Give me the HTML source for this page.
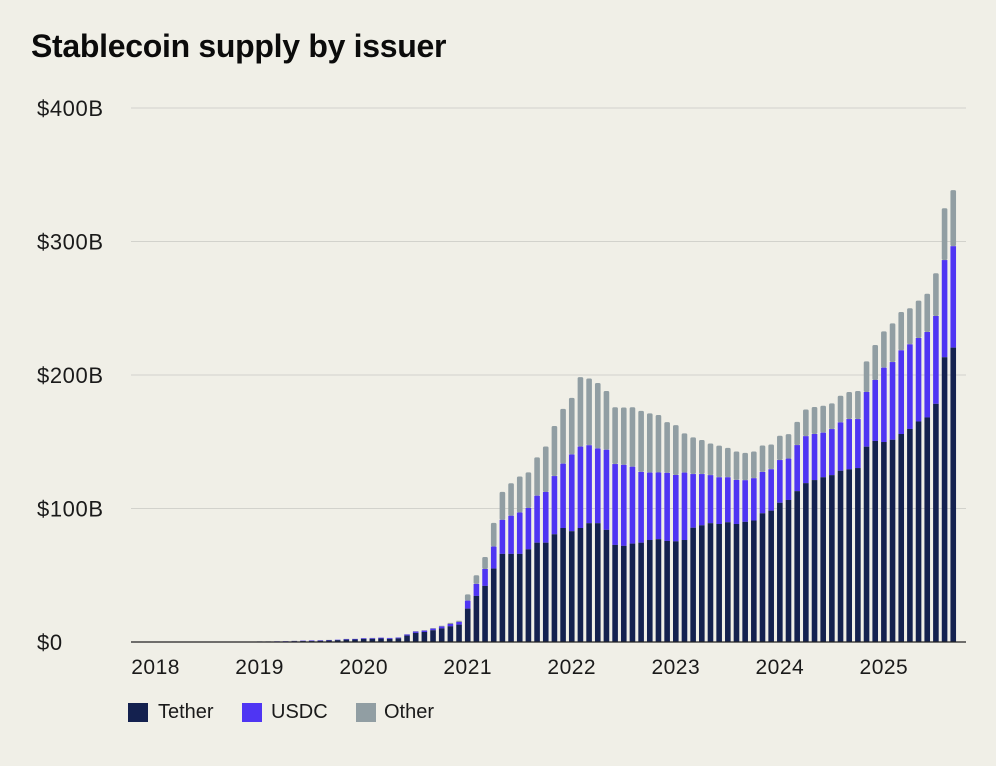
<!DOCTYPE html>
<html><head><meta charset="utf-8"><style>
body{margin:0;background:#f0efe7;width:996px;height:766px;overflow:hidden;font-family:"Liberation Sans",sans-serif;}
#title{position:absolute;left:31px;top:28px;font-size:32px;font-weight:bold;color:#0b0b0b;margin:0;letter-spacing:-0.3px}
svg{position:absolute;left:0;top:0}
.leg{position:absolute;top:701px;font-size:20px;color:#1a1a1a}
.sw{position:absolute;top:703px;width:20px;height:19px}
</style></head><body>
<h1 id="title">Stablecoin supply by issuer</h1>
<svg id="chart" width="996" height="766"></svg>
<div class="sw" style="left:128px;background:#14214f"></div>
<div class="leg" style="left:158px">Tether</div>
<div class="sw" style="left:242px;background:#4f35f3"></div>
<div class="leg" style="left:271px">USDC</div>
<div class="sw" style="left:356px;background:#919ea3"></div>
<div class="leg" style="left:384px">Other</div>
<script>
const yTicks=[0,100,200,300,400];
const yTickLabels=["$0","$100B","$200B","$300B","$400B"];
const xYears=["2018","2019","2020","2021","2022","2023","2024","2025"];
// monthly from 2018-01 to 2025-09, billions
const tether=[0.1,0.1,0.1,0.1,0.1,0.1,0.1,0.1,0.1,0.1,0.1,0.1,
0.2,0.2,0.3,0.4,0.6,0.7,0.7,0.9,1.2,1.4,1.8,1.9,
2.3,2.4,2.6,2.3,2.7,4.8,6.8,7.5,8.8,10.2,11.8,13,
25,34.5,42,55,66,66,66,69.4,74.4,74.4,80.7,85.4,
83,85.4,89,89,84,72.7,72,73.7,74.4,76.4,77,75.7,
75.4,76.4,85.6,87.4,89,88.4,89.7,88.4,90,91,96.4,98.4,
104.3,106.4,113,119,121.3,123.4,125,128.3,129.3,130.3,146.3,150.6,
149.8,151.5,155.8,159.6,165.2,168.2,178.4,213.3,220.5];
const usdc=[0,0,0,0,0,0,0,0,0,0,0,0.1,
0.2,0.2,0.2,0.2,0.2,0.3,0.4,0.4,0.3,0.3,0.4,0.4,
0.5,0.5,0.6,0.6,0.6,0.8,1,1,1.2,1.4,1.7,2,
6,9,12.7,16.5,25.5,28.6,31,31,35.2,38,43.6,48.2,
57.5,61,58.4,56,60,60.6,60.7,57.6,53,50.5,50,51,
49.7,50.5,40.2,38.4,36,35,33.7,33,31.2,31.7,31,31,
32,31,34.5,35.2,34.5,33.4,34.5,36.2,37.7,36.7,41,45.7,
55.7,58.2,62.7,63.4,62.5,64,65.8,72.8,76];
const other=[0.05,0.05,0.05,0.05,0.05,0.05,0.05,0.05,0.05,0.05,0.05,0.05,
0.1,0.1,0.1,0.1,0.1,0.1,0.1,0.1,0.1,0.1,0.1,0.1,
0.2,0.2,0.2,0.2,0.2,0.2,0.3,0.4,0.5,0.6,0.8,0.9,
4.7,6.5,9,17.7,21,24.3,27,26.7,28.7,34,37.5,41,
42.4,52,50,49,44,42.5,43,44.5,45.7,44.4,43,38,
37.4,29.4,27.5,25.5,23.7,23.7,22,21.3,20.5,20,19.8,18.5,
18.2,18.3,17.4,20,20.2,20.2,19.2,20,20.3,21,22.9,26.2,
27.2,29,28.7,27,28,28.7,32,38.8,42];
const svg=document.getElementById('chart');const NS='http://www.w3.org/2000/svg';
const x0=155.6,step=8.67,base=642,pxPer=1.335,bw=5.6;
function xScale(i){return x0+i*step;}
function yScale(v){return base-v*pxPer;}
function mk(tag,attrs){const e=document.createElementNS(NS,tag);for(const k in attrs)e.setAttribute(k,attrs[k]);svg.appendChild(e);return e;}
yTicks.forEach((t,i)=>{
 if(t>0){const g=mk('line',{x1:131,x2:966,y1:yScale(t),y2:yScale(t),stroke:'#d2d2cc','stroke-width':1});
 
 }
 const tx=mk('text',{x:37,y:yScale(t)+8,'font-size':22,'letter-spacing':0.6,fill:'#1a1a1a','font-family':'Liberation Sans, sans-serif'});
 tx.textContent=yTickLabels[i];
 
 
});
xYears.forEach((y,i)=>{
 const tx=mk('text',{x:xScale(i*12),y:674,'font-size':21,'letter-spacing':0.5,fill:'#1a1a1a','text-anchor':'middle','font-family':'Liberation Sans, sans-serif'});
 tx.textContent=y;
 
 
});
function seg(x,v0,v1,color,name,top){
 const h=(v1-v0)*pxPer;if(h<=0.05)return;
 const r=mk('rect',{x:x-bw/2,y:yScale(v1),width:bw,height:h,fill:color});
 if(top){r.setAttribute('rx',Math.min(1.5,h/2));}
 
 
}
tether.forEach((t,i)=>{
 const x=xScale(i),u=usdc[i],o=other[i];
 seg(x,t+u,t+u+o,'#919ea3','bar-other',true);
 seg(x,t,t+u,'#4f35f3','bar-usdc',false);
 seg(x,0,t,'#14214f','bar-tether',false);
});
const ax=mk('line',{x1:131,x2:966,y1:base,y2:base,stroke:'#222','stroke-width':1.2});


</script>
</body></html>
